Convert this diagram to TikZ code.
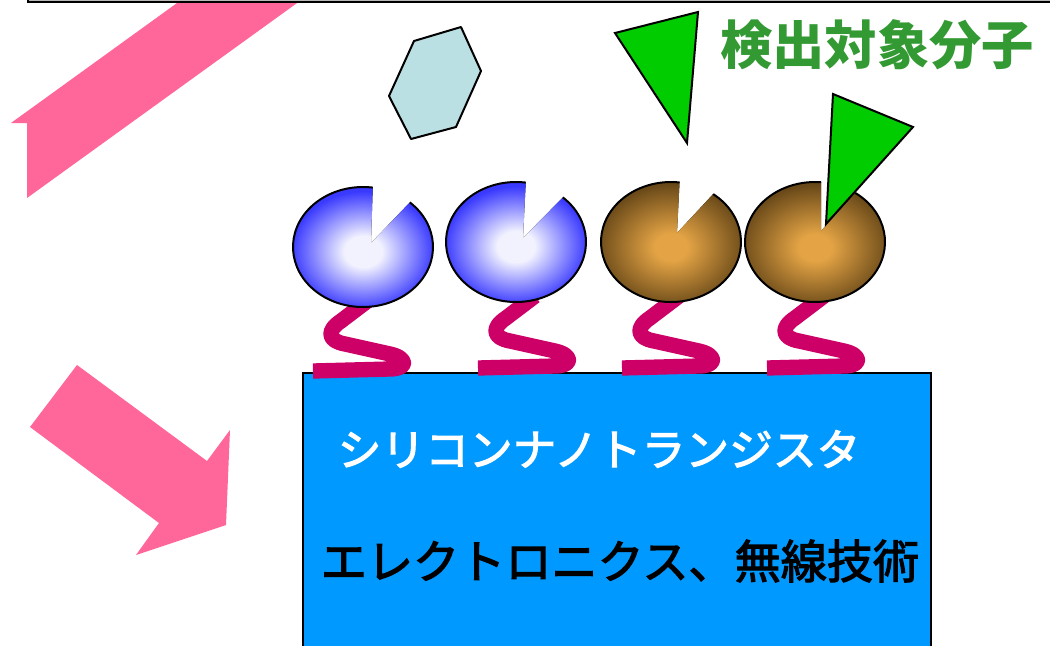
\documentclass[tikz,border=0pt]{standalone}
\usepackage{fontspec}
\newfontfamily\jp{Noto Sans CJK JP}
\newfontfamily\jpm[FakeBold=2.5]{Noto Sans CJK JP}
\definecolor{arrowpink}{HTML}{FF6699}
\definecolor{chipblue}{HTML}{0099FF}
\definecolor{linkmag}{HTML}{CC0066}
\definecolor{targetgreen}{HTML}{00CC00}
\definecolor{labelgreen}{HTML}{339933}
\definecolor{hexfill}{HTML}{BBE0E3}
\definecolor{blueC}{HTML}{F2F2FF}
\definecolor{blueO}{HTML}{3A3AFF}
\definecolor{brownC}{HTML}{E4A445}
\definecolor{brownO}{HTML}{684818}
% receptor shadings: light core, darker rim
\pgfdeclareradialshading{blueball}{\pgfpoint{0bp}{-1bp}}{color(0bp)=(blueC); color(6bp)=(blueC); color(23bp)=(blueO); color(50bp)=(blueO)}
\pgfdeclareradialshading{brownball}{\pgfpoint{0bp}{-1bp}}{color(0bp)=(brownC); color(5bp)=(brownC); color(24bp)=(brownO); color(50bp)=(brownO)}
\tikzset{
  outline/.style={draw=black, line width=1.5pt},
  pinkarrow/.style={fill=arrowpink},
  linkerline/.style={draw=linkmag, line width=11.5pt, line join=round, line cap=butt},
  target/.style={fill=targetgreen, draw=black, line width=1.5pt, line join=miter},
  jptext/.style={inner sep=0pt},
}
% receptor: centre x, centre y, arc start, arc end, notch apex dx, dy, shading
\newcommand\receptor[7]{%
  \fill[shading=#7] (#1,#2) ++(#3:70 and 60)
    arc[start angle=#3, end angle=#4, x radius=70, y radius=60]
    -- (#1+#5,#2+#6) -- cycle;
  \draw[outline] (#1,#2) ++(#3:70 and 60)
    arc[start angle=#3, end angle=#4, x radius=70, y radius=60];
}
% linker chain under a receptor, shifted from a common template
\newcommand\linker[2]{%
  \draw[linkerline, shift={(#1,#2)}]
    (535,296) -- (506,318) .. controls (491,328) and (493,338) .. (510,341)
    -- (555,351) .. controls (573,355) and (573,366) .. (555,366) -- (478,368);
}
\begin{document}
\begin{tikzpicture}[x=0.75pt, y=-0.75pt]
\useasboundingbox (0,0) rectangle (1050,646);
\clip (0,0) rectangle (1050,646);
\fill[white] (0,0) rectangle (1050,646);

% block arrows
\fill[pinkarrow] (184,-2) -- (11,123) -- (27,123) -- (27,198) -- (304,-2) -- cycle;
\fill[pinkarrow] (77,365) -- (207,461) -- (230,430) -- (226,525) -- (136,555) -- (159,523) -- (30,427) -- cycle;

% frame edge along the top
\draw[fill=gray!55, draw=black, line width=0.9pt] (28,-10) rectangle (1060,2);

% transistor block
\draw[fill=chipblue, draw=black, line width=1.5pt] (303,373) rectangle (931,670);

% linkers
\linker{-165}{3}
\linker{0}{0}
\linker{144}{0}
\linker{289}{0}

% receptors
\receptor{363}{247}{-48}{278}{8}{-4}{blueball}
\receptor{516}{242}{-48}{278}{7}{-4}{blueball}
\receptor{671}{242}{-53}{277}{6}{-9}{brownball}
\receptor{815}{242}{-55}{275}{6}{-11}{brownball}

% molecules
\draw[fill=hexfill, draw=black, line width=1.5pt, line join=round]
  (414,41) -- (461,27) -- (481,71) -- (456,127) -- (411,139) -- (389,96) -- cycle;
\draw[target] (615,33) -- (698,12) -- (687,143) -- cycle;
\draw[target] (833,94) -- (913,127) -- (826,224) -- cycle;

% labels
\node[jptext, text=white, font=\jpm\fontsize{32.8}{36}\selectfont] (chip) at (599,449) {シリコンナノトランジスタ};
\node[jptext, text=black, font=\jpm\fontsize{34.6}{38}\selectfont] (app) at (620,561) {エレクトロニクス、無線技術};
\node[jptext, text=labelgreen, font=\jp\bfseries\fontsize{39.2}{44}\selectfont] (target) at (877,45) {検出対象分子};
\end{tikzpicture}
\end{document}
